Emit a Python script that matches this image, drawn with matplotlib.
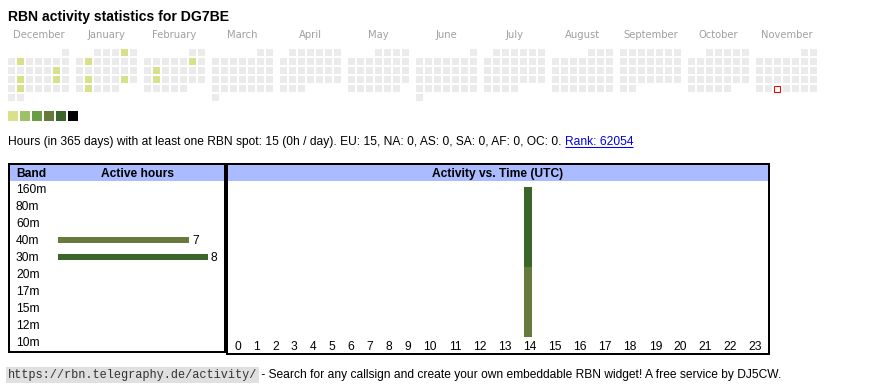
import datetime as dt
import calendar
import matplotlib
matplotlib.use("Agg")
import matplotlib.pyplot as plt
from matplotlib.patches import Rectangle

# ---------------- data ----------------
title = "RBN activity statistics for DG7BE"
month_names = ["December", "January", "February", "March", "April", "May",
               "June", "July", "August", "September", "October", "November"]
month_years = [(2024, 12), (2025, 1), (2025, 2), (2025, 3), (2025, 4), (2025, 5),
               (2025, 6), (2025, 7), (2025, 8), (2025, 9), (2025, 10), (2025, 11)]
active_dates = ["2024-12-03", "2024-12-14", "2024-12-17", "2024-12-21", "2024-12-24",
                "2025-01-04", "2025-01-07", "2025-01-21", "2025-01-25", "2025-01-28",
                "2025-02-08", "2025-02-11", "2025-02-18"]
active_levels = [1, 1, 1, 1, 1, 1, 1, 1, 1, 1, 1, 1, 1]
today = "2025-11-26"
level_colors = ["#ebebeb", "#d8e08a", "#9dc164", "#6b9d46", "#667a3b", "#3c6629", "#000000"]
legend_levels = [1, 2, 3, 4, 5, 6]

info_text = ("Hours (in 365 days) with at least one RBN spot: 15 (0h / day). "
             "EU: 15, NA: 0, AS: 0, SA: 0, AF: 0, OC: 0. ")
rank_text = "Rank: 62054"

bands = ["160m", "80m", "60m", "40m", "30m", "20m", "17m", "15m", "12m", "10m"]
band_hours = [0, 0, 0, 7, 8, 0, 0, 0, 0, 0]
band_colors = ["#8b4513", "#a0522d", "#b8860b", "#667a3b", "#3c6629",
               "#2e8b57", "#4682b4", "#6a5acd", "#9932cc", "#c71585"]

hours = list(range(24))
hourly_40m = [0, 0, 0, 0, 0, 0, 0, 0, 0, 0, 0, 0, 0, 0, 7, 0, 0, 0, 0, 0, 0, 0, 0, 0]
hourly_30m = [0, 0, 0, 0, 0, 0, 0, 0, 0, 0, 0, 0, 0, 0, 8, 0, 0, 0, 0, 0, 0, 0, 0, 0]

url_text = "https://rbn.telegraphy.de/activity/"
footer_text = " - Search for any callsign and create your own embeddable RBN widget! A free service by DJ5CW."

# ---------------- layout ----------------
W, H = 870, 390
SANS = "Liberation Sans"
FS = 8.64

fig = plt.figure(figsize=(W / 100, H / 100), dpi=100)
bg = fig.add_axes([0, 0, 1, 1])
bg.set_xlim(0, W)
bg.set_ylim(H, 0)
bg.axis("off")


def px_axes(x0, y0, x1, y1):
    ax = fig.add_axes([x0 / W, 1 - y1 / H, (x1 - x0) / W, (y1 - y0) / H])
    ax.patch.set_visible(False)
    for s in ax.spines.values():
        s.set_visible(False)
    return ax


# title
bg.text(8, 20.5, title, fontsize=10.1, fontweight="bold", va="baseline", family=SANS)

# calendar heatmap
active = {dt.date.fromisoformat(d): lv for d, lv in zip(active_dates, active_levels)}
today_d = dt.date.fromisoformat(today)
for m, ((yr, mo), name) in enumerate(zip(month_years, month_names)):
    x0 = 8 + 68 * m
    bg.text(x0 + 30.5, 35, name, ha="center", va="center", fontsize=7.2,
            color="#a0a0a0", family="DejaVu Sans")
    first_wd, ndays = calendar.monthrange(yr, mo)
    for d in range(1, ndays + 1):
        row, col = divmod(d - 1 + first_wd, 7)
        date = dt.date(yr, mo, d)
        x = x0 + 9 * col
        y = 49 + 9 * row
        if date == today_d:
            bg.add_patch(Rectangle((x + 0.5, y + 0.5), 6, 6, facecolor="white",
                                   edgecolor="#ff0000", lw=0.75))
        else:
            bg.add_patch(Rectangle((x, y), 7, 7, facecolor=level_colors[active.get(date, 0)],
                                   edgecolor="none"))

# legend squares
for i, lv in enumerate(legend_levels):
    bg.add_patch(Rectangle((8 + 12 * i, 111), 10, 10, facecolor=level_colors[lv], edgecolor="none"))

# info line
t1 = bg.text(8, 145, info_text, va="baseline", fontsize=FS, family=SANS)
fig.canvas.draw()
r = fig.canvas.get_renderer()
x_end = t1.get_window_extent(r).x1
t2 = bg.text(x_end, 145, rank_text, va="baseline", fontsize=FS, family=SANS, color="#0000ee")
fig.canvas.draw()
bb2 = t2.get_window_extent(r)
bg.plot([bb2.x0, bb2.x1], [146.5, 146.5], color="#0000ee", lw=0.75, solid_capstyle="butt")

# table boxes
bg.add_patch(Rectangle((226, 163), 544, 192, facecolor="black", edgecolor="none"))
bg.add_patch(Rectangle((228, 165), 540, 188, facecolor="white", edgecolor="none"))
bg.add_patch(Rectangle((8, 163), 218, 190, facecolor="black", edgecolor="none"))
bg.add_patch(Rectangle((10, 165), 214, 186, facecolor="white", edgecolor="none"))
bg.add_patch(Rectangle((10, 165), 214, 16, facecolor="#aabbff", edgecolor="none"))
bg.add_patch(Rectangle((228, 165), 540, 16, facecolor="#aabbff", edgecolor="none"))
bg.text(16, 177, "Band", fontsize=FS, fontweight="bold", va="baseline", family=SANS)
bg.text(138, 177, "Active hours", fontsize=FS, fontweight="bold", ha="center",
        va="baseline", family=SANS)
bg.text(498, 177, "Activity vs. Time (UTC)", fontsize=FS, fontweight="bold", ha="center",
        va="baseline", family=SANS)

# band bar chart
axb = px_axes(58, 180.5, 208, 350.5)
yb = list(range(len(bands)))
axb.barh(yb, band_hours, height=6.5 / 17, color=band_colors, lw=0)
axb.set_xlim(0, max(band_hours))
axb.set_ylim(len(bands) - 0.5, -0.5)
for i, v in zip(yb, band_hours):
    if v:
        axb.annotate(str(v), (v, i), xytext=(3, -4), textcoords="offset pixels",
                     va="baseline", ha="left", fontsize=FS, family=SANS)
for i, band in zip(yb, bands):
    axb.annotate(band, (0, i), xytext=(-42, -4), textcoords="offset pixels",
                 va="baseline", ha="left", fontsize=FS, family=SANS)
axb.set_yticks([])
axb.set_xticks([])

# activity vs time chart
labels = [str(h) for h in hours]
col_pad, digit_w = 12.84, 6.1
widths = [col_pad + digit_w * len(s) for s in labels]
lefts = [sum(widths[:i]) for i in range(len(widths))]
centers = [l + w / 2 for l, w in zip(lefts, widths)]
total_w = sum(widths)
unit = total_w / 540.0
axt = px_axes(228, 187, 768, 337)
totals = [a + b for a, b in zip(hourly_40m, hourly_30m)]
bar_x = [l + 6.4 * unit for l in lefts]
axt.bar(bar_x, hourly_40m, width=8 * unit, align="edge", color="#667a3b", lw=0)
axt.bar(bar_x, hourly_30m, bottom=hourly_40m, width=8 * unit, align="edge", color="#3c6629", lw=0)
axt.set_xlim(0, total_w)
axt.set_ylim(0, max(totals))
axt.set_xticks(centers)
axt.set_xticklabels(labels, fontsize=FS, family=SANS)
axt.tick_params(axis="x", length=0, pad=3.2)
axt.set_yticks([])

# footer
t3 = bg.text(8, 378, url_text, va="baseline", fontsize=8.6, family="Liberation Mono",
             color="#333333",
             bbox=dict(boxstyle="square,pad=0.15", facecolor="#e0e0e0", edgecolor="none"))
fig.canvas.draw()
x_end3 = t3.get_window_extent(r).x1
bg.text(x_end3 + 1, 378, footer_text, va="baseline", fontsize=FS, family=SANS)

fig.savefig("out.png", dpi=100)
